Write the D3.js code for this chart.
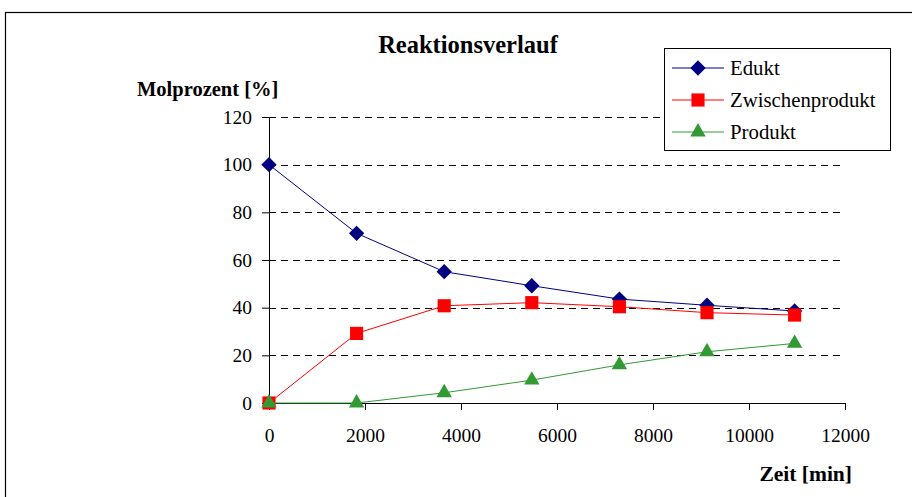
<!DOCTYPE html>
<html>
<head>
<meta charset="utf-8">
<script src="https://cdn.jsdelivr.net/npm/d3@7"></script>
<style>
  body { margin: 0; background: #fff; }
  svg text { font-family: "Times New Roman", Times, "Liberation Serif", "DejaVu Serif", serif !important; }
</style>
</head>
<body>
<div id="chart"></div>
<script>
// DATOS
const zeit = [0, 1825, 3650, 5475, 7300, 9125, 10950]
const edukt = [100, 71.2, 55.1, 49.2, 43.6, 41, 38.6]
const zwischenprodukt = [0, 29.2, 40.8, 42.1, 40.4, 37.9, 36.9]
const produkt = [0, 0, 4.3, 9.6, 16, 21.5, 25]
const xTicks = [0, 2000, 4000, 6000, 8000, 10000, 12000]
const yTicks = [0, 20, 40, 60, 80, 100, 120]

const series = [
  { name: "Edukt", values: edukt, color: "#000080", symbol: d3.symbolDiamond2, size: 150 },
  { name: "Zwischenprodukt", values: zwischenprodukt, color: "#ff0000", symbol: d3.symbolSquare2, size: 220 },
  { name: "Produkt", values: produkt, color: "#339933", symbol: d3.symbolTriangle2, size: 170 }
]

// CONSTANTES
const width = 912
const height = 497
const margin = { left: 269, right: 67, top: 117, bottom: 94 }

const svg = d3.select("#chart").append("svg").attr("width", width).attr("height", height)

// marco exterior
svg.append("rect")
  .attr("x", 5.5).attr("y", 12.5)
  .attr("width", 1000).attr("height", 1000)
  .attr("fill", "none").attr("stroke", "#000").attr("stroke-width", 1.2)

// ESCALAS
const x = d3.scaleLinear().domain([0, 12000]).range([margin.left, width - margin.right])
const y = d3.scaleLinear().domain([0, 120]).range([height - margin.bottom, margin.top])

// rejilla
svg.append("g").selectAll("line").data(yTicks.filter(d => d > 0)).join("line")
  .attr("x1", x(0)).attr("x2", x(12000))
  .attr("y1", d => Math.round(y(d)) + 0.5).attr("y2", d => Math.round(y(d)) + 0.5)
  .attr("stroke", "#000").attr("stroke-dasharray", "7,5")

// EJES
const xAxis = d3.axisBottom(x).tickValues(xTicks).tickSize(7).tickSizeOuter(0).tickFormat(d3.format("d"))
const yAxis = d3.axisLeft(y).tickValues(yTicks).tickSize(7).tickSizeOuter(0).tickFormat(d3.format("d"))

const xAxisGroup = svg.append("g").attr("transform", `translate(0, ${y(0)})`).call(xAxis)
const yAxisGroup = svg.append("g").attr("transform", `translate(${x(0)}, 0)`).call(yAxis)

for (const g of [xAxisGroup, yAxisGroup]) {
  g.attr("font-family", null)
  g.selectAll("text").style("font-size", "19.5px").attr("fill", "#000")
  g.select(".domain").attr("stroke", "#000")
  g.selectAll(".tick line").attr("stroke", "#000")
}
xAxisGroup.selectAll("text").attr("dy", "1.5em")
yAxisGroup.selectAll("text").attr("x", -17)

// LINEAS Y MARCADORES
const line = d3.line().x((d, i) => x(zeit[i])).y(d => y(d))

series.forEach(s => {
  svg.append("path").datum(s.values)
    .attr("d", line).attr("fill", "none")
    .attr("stroke", s.color).attr("stroke-width", 1)
  svg.append("g").selectAll("path").data(s.values).join("path")
    .attr("transform", (d, i) => `translate(${x(zeit[i])}, ${y(d)})`)
    .attr("d", d3.symbol(s.symbol, s.size))
    .attr("fill", s.color)
})

// TITULOS
svg.append("text").attr("x", 468).attr("y", 53).attr("text-anchor", "middle")
  .style("font-size", "24.5px").style("font-weight", "bold").text("Reaktionsverlauf")
svg.append("text").attr("x", 137).attr("y", 96)
  .style("font-size", "20.5px").style("font-weight", "bold").text("Molprozent [%]")
svg.append("text").attr("x", 852).attr("y", 481).attr("text-anchor", "end")
  .style("font-size", "21.5px").style("font-weight", "bold").text("Zeit [min]")

// LEYENDA
const legend = svg.append("g")
legend.append("rect")
  .attr("x", 664.5).attr("y", 48.5).attr("width", 226).attr("height", 102)
  .attr("fill", "#fff").attr("stroke", "#000")
series.forEach((s, i) => {
  const ly = 68 + i * 32
  legend.append("line").attr("x1", 672).attr("x2", 724).attr("y1", ly).attr("y2", ly)
    .attr("stroke", s.color)
  legend.append("path").attr("transform", `translate(698, ${ly})`)
    .attr("d", d3.symbol(s.symbol, s.size)).attr("fill", s.color)
  legend.append("text").attr("x", 730).attr("y", ly + 6.5)
    .style("font-size", "20.8px").text(s.name)
})
</script>
</body>
</html>
